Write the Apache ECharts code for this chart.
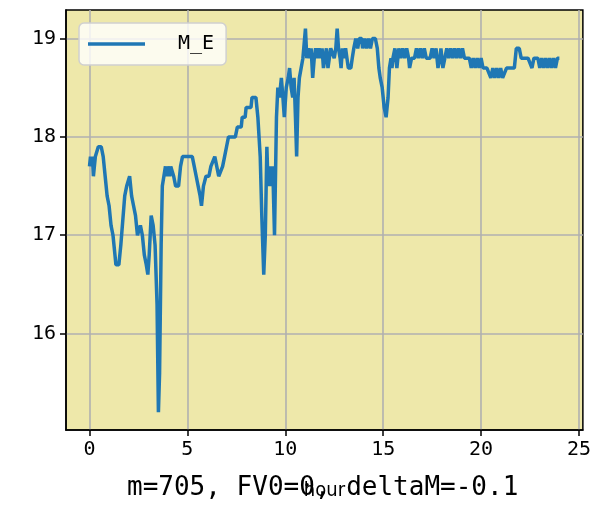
<!DOCTYPE html>
<html>
<head>
<meta charset="utf-8">
<script src="https://cdn.jsdelivr.net/npm/echarts@6/dist/echarts.min.js"></script>
<style>
  html, body { margin: 0; padding: 0; background: #fff; }
  #chart { width: 594px; height: 510px; }
</style>
</head>
<body>
<div id="chart"></div>
<script>
// M_E over the day (hour, magnitude)
const hours = [
  0.00, 0.05, 0.10, 0.15, 0.20, 0.25, 0.30, 0.40, 0.45, 0.60, 0.70, 0.80, 0.90, 1.00, 1.10, 1.20,
  1.30, 1.35, 1.50, 1.55, 1.60, 1.70, 1.80, 1.90, 2.00, 2.05, 2.15, 2.25, 2.35, 2.45, 2.55, 2.60,
  2.70, 2.80, 2.90, 2.98, 3.05, 3.15, 3.25, 3.35, 3.45, 3.52, 3.58, 3.66, 3.72, 3.80, 3.88, 3.95,
  4.00, 4.10, 4.15, 4.30, 4.40, 4.55, 4.65, 4.75, 5.00, 5.25, 5.35, 5.45, 5.55, 5.65, 5.72, 5.82,
  5.95, 6.10, 6.20, 6.40, 6.50, 6.60, 6.70, 6.80, 6.90, 7.00, 7.10, 7.45, 7.55, 7.75, 7.80, 7.95,
  8.00, 8.25, 8.30, 8.50, 8.60, 8.72, 8.80, 8.90, 8.98, 9.06, 9.12, 9.20, 9.28, 9.36, 9.45, 9.55,
  9.62, 9.70, 9.80, 9.88, 9.95, 10.05, 10.15, 10.22, 10.30, 10.38, 10.45, 10.52, 10.58, 10.65, 10.72, 10.80,
  10.90, 10.98, 11.03, 11.10, 11.18, 11.25, 11.32, 11.40, 11.48, 11.55, 11.65, 11.72, 11.80, 11.88, 11.95, 12.02,
  12.10, 12.18, 12.25, 12.32, 12.42, 12.50, 12.58, 12.65, 12.72, 12.80, 12.85, 12.92, 13.00, 13.08, 13.15, 13.22,
  13.35, 13.42, 13.50, 13.60, 13.70, 13.78, 13.90, 13.95, 14.05, 14.15, 14.25, 14.35, 14.45, 14.60, 14.70, 14.78,
  14.85, 14.95, 15.05, 15.15, 15.25, 15.32, 15.40, 15.45, 15.50, 15.60, 15.70, 15.80, 15.90, 16.00, 16.10, 16.20,
  16.30, 16.35, 16.45, 16.60, 16.70, 16.80, 16.90, 17.00, 17.10, 17.20, 17.40, 17.50, 17.60, 17.70, 17.80, 17.90,
  17.95, 18.05, 18.15, 18.25, 18.35, 18.45, 18.55, 18.65, 18.75, 18.85, 18.95, 19.05, 19.15, 19.40, 19.50, 19.60,
  19.70, 19.80, 19.90, 20.00, 20.10, 20.30, 20.40, 20.50, 20.60, 20.70, 20.80, 20.90, 21.00, 21.10, 21.20, 21.30,
  21.50, 21.70, 21.80, 21.95, 22.05, 22.20, 22.40, 22.50, 22.60, 22.70, 22.90, 23.00, 23.10, 23.20, 23.30, 23.40,
  23.50, 23.60, 23.70, 23.80, 23.90, 24.00
];
const mag = [
  17.7, 17.8, 17.7, 17.8, 17.6, 17.7, 17.8, 17.8, 17.9, 17.9, 17.8, 17.6, 17.4, 17.3, 17.1, 17.0,
  16.8, 16.7, 16.7, 16.8, 16.9, 16.9, 17.4, 17.5, 17.5, 17.6, 17.4, 17.3, 17.2, 17.0, 17.0, 17.1,
  17.0, 16.8, 16.7, 16.6, 16.8, 17.2, 17.1, 16.9, 16.3, 15.2, 15.6, 16.9, 17.5, 17.6, 17.7, 17.6,
  17.7, 17.6, 17.7, 17.6, 17.5, 17.5, 17.7, 17.8, 17.8, 17.8, 17.7, 17.6, 17.5, 17.4, 17.3, 17.5,
  17.6, 17.6, 17.7, 17.8, 17.7, 17.6, 17.6, 17.7, 17.8, 17.9, 18.0, 18.0, 18.1, 18.1, 18.2, 18.2,
  18.3, 18.3, 18.4, 18.4, 18.2, 17.8, 17.2, 16.6, 17.0, 17.9, 17.5, 17.7, 17.5, 17.7, 17.0, 18.2,
  18.5, 18.4, 18.6, 18.4, 18.2, 18.5, 18.6, 18.7, 18.5, 18.4, 18.6, 18.2, 17.8, 18.4, 18.6, 18.6,
  18.8, 18.8, 19.1, 18.8, 18.9, 18.8, 18.9, 18.6, 18.8, 18.9, 18.8, 18.9, 18.8, 18.9, 18.7, 18.8,
  18.9, 18.7, 18.8, 18.9, 18.9, 18.8, 18.9, 19.1, 18.9, 18.8, 18.7, 18.9, 18.8, 18.9, 18.8, 18.7,
  18.7, 18.8, 18.9, 19.0, 18.9, 19.0, 19.0, 18.9, 19.0, 18.9, 19.0, 18.9, 19.0, 19.0, 18.9, 18.7,
  18.6, 18.5, 18.3, 18.2, 18.4, 18.7, 18.8, 18.7, 18.8, 18.9, 18.7, 18.9, 18.8, 18.9, 18.8, 18.9,
  18.8, 18.7, 18.8, 18.8, 18.9, 18.8, 18.9, 18.8, 18.9, 18.8, 18.8, 18.9, 18.8, 18.9, 18.7, 18.8,
  18.9, 18.7, 18.8, 18.9, 18.8, 18.9, 18.8, 18.9, 18.8, 18.9, 18.8, 18.9, 18.8, 18.8, 18.7, 18.8,
  18.7, 18.8, 18.7, 18.8, 18.7, 18.7, 18.7, 18.6, 18.7, 18.6, 18.7, 18.6, 18.7, 18.6, 18.6, 18.7,
  18.7, 18.7, 18.9, 18.9, 18.8, 18.8, 18.8, 18.8, 18.7, 18.8, 18.8, 18.7, 18.8, 18.7, 18.8, 18.7,
  18.8, 18.7, 18.8, 18.7, 18.8, 18.8
];
const xTicks = [0, 5, 10, 15, 20, 25];
const yTicks = [16, 17, 18, 19];

const chart = echarts.init(document.getElementById('chart'));
const font = '"DejaVu Sans Mono", monospace';

const option = {
  animation: false,
  backgroundColor: '#fff',
  title: {
    text: 'm=705, FV0=0, deltaM=-0.1',
    left: 122,
    top: 470,
    textStyle: { fontFamily: font, fontSize: 26, fontWeight: 'normal', color: '#000' }
  },
  grid: {
    left: 66, top: 10, width: 517, height: 420,
    show: true,
    backgroundColor: '#eee8aa',
    borderColor: '#000',
    borderWidth: 1.5
  },
  legend: {
    left: 79, top: 23,
    padding: [11, 12, 11, 9],
    backgroundColor: 'rgba(255,255,255,0.8)',
    borderColor: '#d0d0d0',
    borderWidth: 1.5,
    borderRadius: 5,
    icon: 'rect',
    itemWidth: 57,
    itemHeight: 3.5,
    textStyle: { fontFamily: font, fontSize: 20, color: '#000', padding: [0, 0, 0, 28] },
    data: ['M_E']
  },
  xAxis: {
    type: 'value',
    min: -1.2, max: 25.2,
    name: 'hour',
    nameLocation: 'middle',
    nameGap: 51,
    nameTextStyle: { fontFamily: '"Liberation Sans Narrow", "DejaVu Sans Condensed", sans-serif', fontSize: 20, color: '#000' },
    axisLine: { show: true, onZero: false, lineStyle: { color: '#000', width: 1.5 } },
    axisTick: { show: true, length: 6, customValues: xTicks, lineStyle: { color: '#000', width: 1.5 } },
    axisLabel: { customValues: xTicks, margin: 10, fontFamily: font, fontSize: 20, color: '#000' },
    splitLine: { show: true, lineStyle: { color: '#b0b0b0', width: 1.6 } }
  },
  yAxis: {
    type: 'value',
    min: 15.02, max: 19.29,
    axisLine: { show: true, onZero: false, lineStyle: { color: '#000', width: 1.5 } },
    axisTick: { show: true, length: 6, customValues: yTicks, lineStyle: { color: '#000', width: 1.5 } },
    axisLabel: { customValues: yTicks, margin: 10, fontFamily: font, fontSize: 20, color: '#000' },
    splitLine: { show: true, lineStyle: { color: '#b0b0b0', width: 1.6 } }
  },
  series: [{
    name: 'M_E',
    type: 'line',
    showSymbol: false,
    color: '#1f77b4',
    lineStyle: { width: 3.5, color: '#1f77b4' },
    data: hours.map((h, i) => [h, mag[i]])
  }]
};
chart.setOption(option);
</script>
</body>
</html>
